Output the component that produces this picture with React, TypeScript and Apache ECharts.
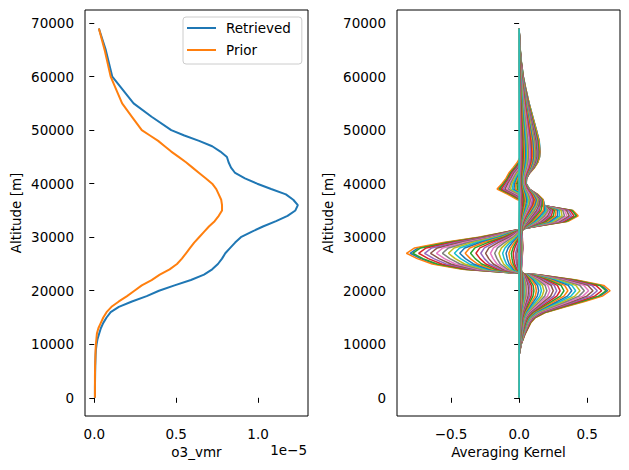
import React, { useEffect, useRef } from "react";
import * as echarts from "echarts";

// ---------- Left panel: ozone profiles ----------
const profileAltitudes = [
  0, 2000, 4000, 6000, 8000, 9000, 10000, 11000, 12000, 13000, 14000, 15000, 16000, 17000, 18000, 19000,
  20000, 21000, 22000, 23000, 24000, 25000, 26000, 27000, 28000, 29000, 30000, 31000, 32000, 33000, 34000,
  35000, 36000, 37000, 38000, 39000, 40000, 41000, 42000, 43000, 44000, 45000, 46000, 47000, 48000, 49000,
  50000, 52500, 55000, 60000, 65000, 69000,
];
// values in units of 1e-5 (volume mixing ratio)
const retrievedVmr = [
  0.004, 0.004, 0.005, 0.006, 0.008, 0.01, 0.014, 0.02, 0.03, 0.04, 0.055, 0.075, 0.1, 0.15, 0.23, 0.32,
  0.395, 0.49, 0.59, 0.67, 0.72, 0.755, 0.78, 0.80, 0.83, 0.86, 0.895, 0.96, 1.03, 1.11, 1.18,
  1.228, 1.243, 1.215, 1.17, 1.08, 0.995, 0.92, 0.86, 0.835, 0.82, 0.81, 0.77, 0.72, 0.64, 0.55,
  0.47, 0.35, 0.24, 0.11, 0.07, 0.028,
];
const priorVmr = [
  0.004, 0.004, 0.004, 0.005, 0.007, 0.008, 0.01, 0.013, 0.016, 0.025, 0.04, 0.055, 0.075, 0.105, 0.15, 0.2,
  0.245, 0.29, 0.35, 0.4, 0.46, 0.505, 0.535, 0.56, 0.585, 0.61, 0.64, 0.67, 0.7, 0.735, 0.76,
  0.78, 0.78, 0.775, 0.76, 0.745, 0.72, 0.68, 0.64, 0.6, 0.56, 0.515, 0.47, 0.43, 0.39, 0.34,
  0.29, 0.23, 0.17, 0.1, 0.063, 0.028,
];

// ---------- Right panel: averaging kernels ----------
const kernelAltitudes = [
  0, 8000, 10000, 12000, 14000, 15000, 16000, 17000, 18000, 19000, 20000, 21000, 22000, 23000, 24000, 25000,
  26000, 27000, 28000, 29000, 30000, 31000, 32000, 33000, 34000, 35000, 36000, 37000, 38000, 39000, 40000,
  41000, 42000, 43000, 44000, 45000, 46000, 48000, 50000, 52000, 55000, 58000, 60000, 63000, 66000, 69000,
];
// outermost kernel row (largest lobes)
const outerKernel = [
  0, 0, 0.015, 0.045, 0.085, 0.12, 0.2, 0.34, 0.48, 0.61, 0.667, 0.62, 0.42, 0.14, -0.42, -0.64,
  -0.75, -0.83, -0.77, -0.56, -0.3, -0.1, 0.12, 0.36, 0.43, 0.39, 0.14, -0.02, -0.09, -0.167, -0.13,
  -0.1, -0.08, -0.05, -0.02, 0.0, 0.02, 0.04, 0.04, 0.03, 0.02, 0.01, 0.005, 0, 0, 0,
];
// upper-atmosphere bulge seen in the inner kernel rows
const upperKernel = [
  0, 0, 0.003, 0.006, 0.01, 0.012, 0.015, 0.02, 0.025, 0.03, 0.03, 0.03, 0.03, 0.03, 0.03, 0.035,
  0.04, 0.045, 0.05, 0.045, 0.04, 0.03, 0.03, 0.05, 0.08, 0.12, 0.16, 0.18, 0.15, 0.1, 0.07,
  0.07, 0.09, 0.12, 0.14, 0.15, 0.15, 0.14, 0.12, 0.1, 0.07, 0.045, 0.03, 0.015, 0.005, 0,
];
// per-row weights of the two shapes
const lobeWeights = [
  0.97, 1.0, 0.95, 0.9, 0.85, 0.8, 0.75, 0.7, 0.65, 0.6,
  0.555, 0.51, 0.465, 0.42, 0.38, 0.34, 0.3, 0.265, 0.23, 0.2,
  0.17, 0.145, 0.12, 0.1, 0.08, 0.065, 0.05, 0.04, 0.03, 0.022,
  0.015, 0.01, 0.006, 0.003, 0.001, 0, 0, 0, 0, 0,
  0, 0, 0, 0, 0, 0, 0, 0, 0, 0,
];
const upperWeights = [
  0.1, 0.05, 0.15, 0.2, 0.25, 0.3, 0.35, 0.4, 0.45, 0.5,
  0.55, 0.6, 0.65, 0.7, 0.75, 0.8, 0.85, 0.9, 0.95, 1.0,
  1.0, 1.0, 0.95, 0.9, 0.9, 0.85, 0.8, 0.8, 0.75, 0.7,
  0.7, 0.65, 0.6, 0.6, 0.55, 0.5, 0.5, 0.45, 0.4, 0.35,
  0.3, 0.25, 0.2, 0.15, 0.1, 0.08, 0.05, 0.03, 0.01, 0,
];

const altitudeTicks = [0, 10000, 20000, 30000, 40000, 50000, 60000, 70000];
const vmrTicks = [0, 0.5e-5, 1.0e-5];
const kernelTicks = [-0.5, 0, 0.5];

const tab10 = ["#1f77b4", "#ff7f0e", "#2ca02c", "#d62728", "#9467bd", "#8c564b", "#e377c2", "#7f7f7f", "#bcbd22", "#17becf"];

const FONT = "DejaVu Sans";
const FS = 13.5;

export default function App() {
  const ref = useRef<HTMLDivElement>(null);
  useEffect(() => {
    if (!ref.current) return;
    const chart = echarts.init(ref.current, undefined, { renderer: "svg" });

    const fmtMinus = (v: number, d: number) => (v < 0 ? "\u2212" + Math.abs(v).toFixed(d) : v.toFixed(d));

    const yAxisBase = (gridIndex: number) => ({
      gridIndex,
      type: "value",
      min: -3400,
      max: 72450,
      name: "Altitude [m]",
      nameLocation: "middle",
      nameGap: 62,
      nameTextStyle: { fontFamily: FONT, fontSize: FS, color: "#000" },
      axisLine: { show: false },
      axisTick: { show: true, length: 5, lineStyle: { color: "#000", width: 1 }, customValues: altitudeTicks },
      axisLabel: { color: "#000", fontFamily: FONT, fontSize: FS, margin: 11, customValues: altitudeTicks, formatter: (v: number) => String(v) },
      splitLine: { show: false },
    });

    const kernelSeries = lobeWeights.map((w, i) => ({
      type: "line",
      xAxisIndex: 1,
      yAxisIndex: 1,
      showSymbol: false,
      symbol: "none",
      silent: true,
      lineStyle: { width: 1.5, color: tab10[i % 10] },
      data: kernelAltitudes.map((a, j) => [w * outerKernel[j] + upperWeights[i] * upperKernel[j], a]),
    }));

    const textStyleBase = { fontFamily: FONT, fontSize: FS, fill: "#000" };

    chart.setOption({
      animation: false,
      textStyle: { fontFamily: FONT },
      legend: {
        data: ["Retrieved", "Prior"],
        orient: "vertical",
        left: 183,
        top: 17,
        padding: [3, 11, 6, 4],
        itemWidth: 29,
        itemHeight: 2,
        itemGap: 6,
        icon: "rect",
        backgroundColor: "#fff",
        borderColor: "#cccccc",
        borderWidth: 1,
        borderRadius: 3,
        textStyle: { fontFamily: FONT, fontSize: FS, color: "#000", lineHeight: 16, padding: [0, 0, 0, 5] },
      },
      grid: [
        { left: 85, top: 10, width: 223, height: 406, show: true, borderColor: "#000", borderWidth: 1 },
        { left: 397, top: 10, width: 223, height: 406, show: true, borderColor: "#000", borderWidth: 1 },
      ],
      xAxis: [
        {
          gridIndex: 0,
          type: "value",
          min: -0.0567e-5,
          max: 1.305e-5,
          axisLine: { show: false },
          axisTick: { show: true, length: 5, lineStyle: { color: "#000", width: 1 }, customValues: vmrTicks },
          axisLabel: { color: "#000", fontFamily: FONT, fontSize: FS, margin: 11, customValues: vmrTicks, formatter: (v: number) => (v / 1e-5).toFixed(1) },
          splitLine: { show: false },
        },
        {
          gridIndex: 1,
          type: "value",
          min: -0.897,
          max: 0.741,
          axisLine: { show: false },
          axisTick: { show: true, length: 5, lineStyle: { color: "#000", width: 1 }, customValues: kernelTicks },
          axisLabel: { color: "#000", fontFamily: FONT, fontSize: FS, margin: 11, customValues: kernelTicks, formatter: (v: number) => fmtMinus(v, 1) },
          splitLine: { show: false },
        },
      ],
      yAxis: [yAxisBase(0), yAxisBase(1)],
      graphic: [
        {
          type: "text",
          x: 196.5,
          y: 452,
          style: { ...textStyleBase, text: "o3_vmr", align: "center", verticalAlign: "middle" },
        },
        {
          type: "text",
          x: 508.5,
          y: 452,
          style: { ...textStyleBase, text: "Averaging Kernel", align: "center", verticalAlign: "middle" },
        },
        {
          type: "text",
          x: 307,
          y: 450,
          style: { ...textStyleBase, text: "1e\u22125", align: "right", verticalAlign: "middle" },
        },
      ],
      series: [
        {
          name: "Retrieved",
          type: "line",
          xAxisIndex: 0,
          yAxisIndex: 0,
          showSymbol: false,
          symbol: "none",
          color: tab10[0],
          lineStyle: { width: 2, color: tab10[0] },
          data: profileAltitudes.map((a, i) => [retrievedVmr[i] * 1e-5, a]),
        },
        {
          name: "Prior",
          type: "line",
          xAxisIndex: 0,
          yAxisIndex: 0,
          showSymbol: false,
          symbol: "none",
          color: tab10[1],
          lineStyle: { width: 2, color: tab10[1] },
          data: profileAltitudes.map((a, i) => [priorVmr[i] * 1e-5, a]),
        },
        ...kernelSeries,
      ],
    });
    return () => chart.dispose();
  }, []);
  return <div ref={ref} style={{ position: "fixed", left: 0, top: 0, width: 629, height: 470, background: "#fff" }} />;
}
